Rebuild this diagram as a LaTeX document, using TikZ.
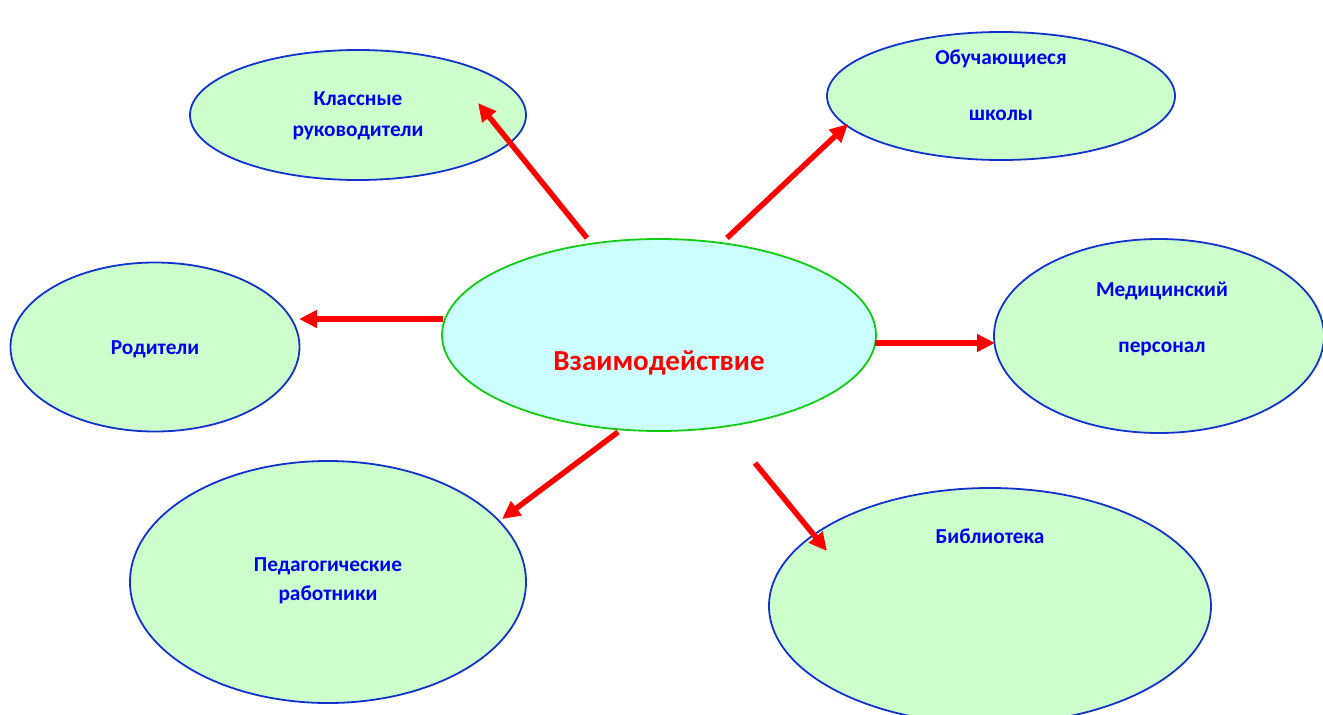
\documentclass[tikz,border=0pt]{standalone}
\usepackage{fontspec}
\setmainfont{Carlito}
\usetikzlibrary{shapes.geometric,arrows.meta}
\definecolor{leaf}{HTML}{CCFFCC}
\definecolor{sky}{HTML}{CCFFFF}
\definecolor{rim}{HTML}{1133CC}
\definecolor{midrim}{HTML}{11CC11}
\definecolor{ink}{HTML}{0000EE}
\begin{document}
\begin{tikzpicture}[x=1pt,y=-1pt,
  bubble/.style={ellipse,draw=rim,fill=leaf,line width=1.8pt,inner sep=0pt},
  hub/.style={ellipse,draw=midrim,fill=sky,line width=1.8pt,inner sep=0pt},
  lbl/.style={text=ink,font=\fontsize{21.3}{24}\selectfont\bfseries,inner sep=0pt,anchor=base},
  hublbl/.style={text=red,font=\fontsize{29}{32}\selectfont\bfseries,inner sep=0pt,anchor=base},
  link/.style={draw=red,line width=5.5pt,-{Triangle[length=18pt,width=17pt]}}]
\useasboundingbox (0,0) rectangle (1323,715);
% ellipses
\node[bubble,minimum width=336pt,minimum height=130pt] (kl) at (358,115) {};
\node[bubble,minimum width=348pt,minimum height=128pt] (ob) at (1001,96) {};
\node[bubble,minimum width=289pt,minimum height=169pt] (ro) at (155,347) {};
\node[hub,minimum width=434pt,minimum height=192pt] (vz) at (659,335) {};
\node[bubble,minimum width=330pt,minimum height=194pt] (me) at (1159,336) {};
\node[bubble,minimum width=396pt,minimum height=242pt] (pe) at (328,582) {};
\node[bubble,minimum width=442pt,minimum height=236pt] (bi) at (990,606) {};
% texts
\node[lbl] (kl1) at (358,105) {Классные};
\node[lbl] (kl2) at (358,136) {руководители};
\node[lbl] (ob1) at (1001,64) {Обучающиеся};
\node[lbl] (ob2) at (1001,120) {школы};
\node[lbl] (ro1) at (155,354) {Родители};
\node[hublbl] (vz1) at (659,370) {Взаимодействие};
\node[lbl] (me1) at (1162,296) {Медицинский};
\node[lbl] (me2) at (1162,352) {персонал};
\node[lbl] (pe1) at (328,571) {Педагогические};
\node[lbl] (pe2) at (328,600) {работники};
\node[lbl] (bi1) at (990,543) {Библиотека};
% arrow ends
\coordinate (s1) at (587,238); \coordinate (t1) at (478,103);
\coordinate (s2) at (727,238); \coordinate (t2) at (848,124);
\coordinate (s3) at (443,319); \coordinate (t3) at (299,319);
\coordinate (s4) at (875,343); \coordinate (t4) at (995,343);
\coordinate (s5) at (618,432); \coordinate (t5) at (502,519);
\coordinate (s6) at (755,463); \coordinate (t6) at (827,551);
\draw[link] (s1) -- (t1);
\draw[link] (s2) -- (t2);
\draw[link] (s3) -- (t3);
\draw[link] (s4) -- (t4);
\draw[link] (s5) -- (t5);
\draw[link] (s6) -- (t6);
\end{tikzpicture}
\end{document}
